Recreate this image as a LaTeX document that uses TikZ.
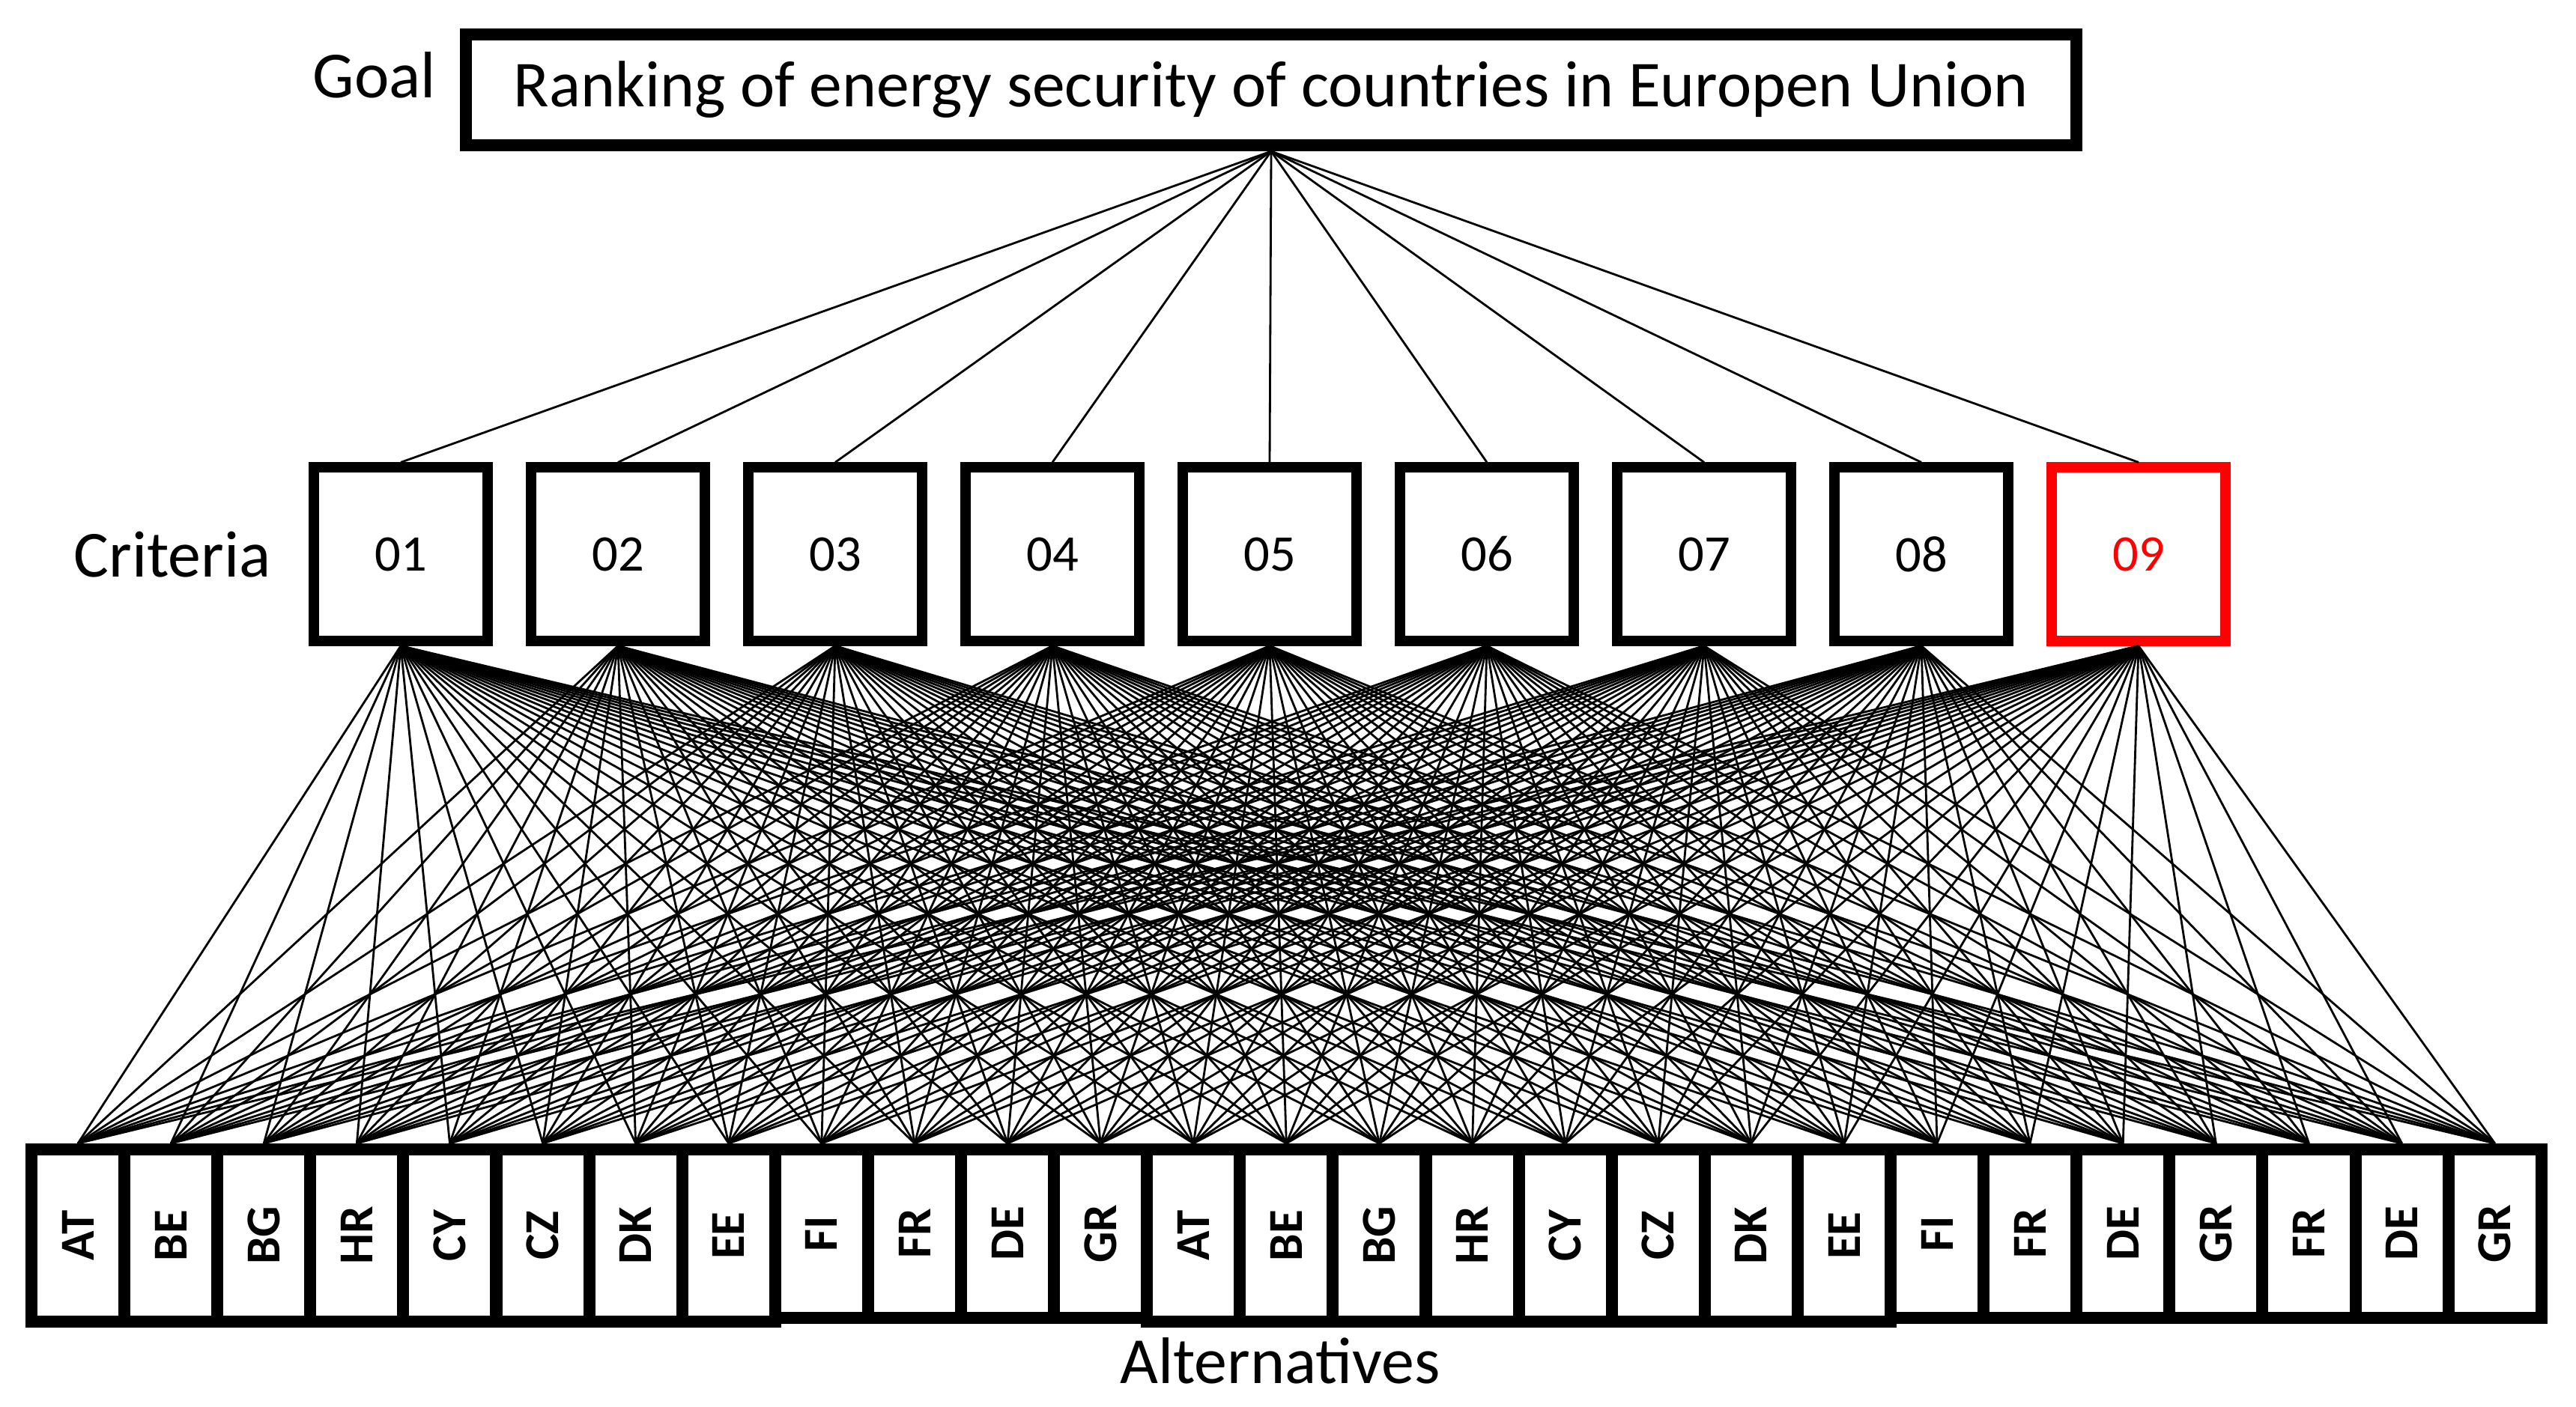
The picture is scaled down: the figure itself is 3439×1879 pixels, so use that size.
\documentclass[tikz,border=0pt]{standalone}
\usepackage{fontspec}
\usepackage{graphicx}
\setmainfont{Carlito}
\usetikzlibrary{positioning}

\begin{document}
\begin{tikzpicture}[x=0.01cm,y=-0.01cm]
\tikzset{top/.style={draw,line width=1.6mm,minimum width=21.49cm,minimum height=1.48cm,font=\fontsize{24.9}{28}\selectfont},
  crit/.style={draw,fill=white,line width=1.4mm,minimum size=2.31cm,font=\fontsize{19.5}{22}\selectfont},
  alt/.style={draw,line width=1.6mm,minimum width=1.241cm,inner sep=0pt,font=\bfseries\fontsize{18.5}{20}\selectfont},
  lbl/.style={font=\fontsize{25}{28}\selectfont,anchor=base},
  link/.style={line width=0.8pt}};
   \useasboundingbox (0,0) rectangle (3439,1879);

   \node[top] at (1697,120) (goal) {Ranking of energy security of countries in Europen Union};
   \node[lbl] at (500,131) (goallbl) {Goal};

   \foreach \i in {1,...,8}
      \node[crit] at ({535+290*(\i-1)},740) (c\i) {0\i};
   \node[crit,draw=red,text=red] at (2855,740) (c9) {09};
   \node[lbl] at (230,770) (critlbl) {Criteria};

   % the 27 alternatives, \dy = short cell
   \foreach \lab/\dy [count=\j] in {AT/0,BE/0,BG/0,HR/0,CY/0,CZ/0,DK/0,EE/0,FI/1,FR/1,DE/1,GR/1,
         AT/0,BE/0,BG/0,HR/0,CY/0,CZ/0,DK/0,EE/0,FI/1,FR/1,DE/1,GR/1,FR/1,DE/1,GR/1}
      \node[alt,minimum height={2.3cm-\dy*0.05cm}] at ({42+124.1*(\j-0.5)},{1650-2.5*\dy}) (a\j) {\rotatebox{90}{\lab}};
   \node[lbl] at (1709,1847) (altlbl) {Alternatives};

   \foreach \i in {1,...,9}
      \draw[link] (goal.south) -- (c\i.north);
   \foreach \i in {1,...,9}
      \foreach \j in {1,...,27}
         \draw[link] (c\i.south) -- (a\j.north);

\end{tikzpicture}
\end{document}
